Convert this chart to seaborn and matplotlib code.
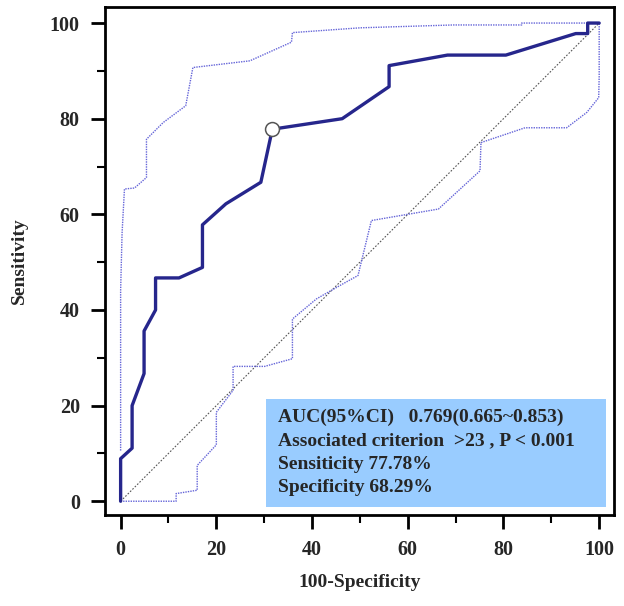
import numpy as np
import pandas as pd
import matplotlib
matplotlib.use("Agg")
import matplotlib.pyplot as plt
import seaborn as sns
from matplotlib.patches import Rectangle
from matplotlib.ticker import MultipleLocator

# ROC curve (100-Specificity, Sensitivity)
roc_x = [0, 0, 2.4, 2.4, 4.9, 4.9, 7.3, 7.3, 12.2, 17.1, 17.1, 22.0, 29.3, 31.7,
         46.3, 56.1, 56.1, 68.3, 80.5, 95.1, 97.6, 97.6, 100]
roc_y = [0, 8.9, 11.1, 20.0, 26.7, 35.6, 40.0, 46.7, 46.7, 48.9, 57.8, 62.2, 66.7, 77.8,
         80.0, 86.7, 91.1, 93.3, 93.3, 97.8, 97.8, 100, 100]

# upper confidence band
up_x = [0, 0, 0.3, 0.8, 2.9, 5.4, 5.4, 8.9, 13.6, 15.1, 27.0, 35.7, 35.9, 50.0,
        69.5, 83.8, 83.8, 100]
up_y = [10.6, 44.0, 56.0, 65.3, 65.5, 67.7, 75.7, 79.2, 82.7, 90.7, 92.1, 96.0, 98.0, 99.0,
        99.6, 99.6, 100, 100]

# lower confidence band
lo_x = [0, 11.6, 11.6, 16.0, 16.0, 20.0, 20.0, 23.5, 23.5, 30.1, 35.9, 35.9, 40.9, 45.8,
        49.6, 52.4, 66.4, 75.1, 75.3, 84.5, 93.2, 97.4, 99.9, 100, 100]
lo_y = [0, 0, 1.6, 2.3, 7.5, 11.8, 18.6, 23.2, 28.2, 28.2, 29.8, 38.1, 42.3, 45.1,
        47.2, 58.7, 61.1, 69.1, 75.0, 78.1, 78.1, 81.3, 84.4, 88.9, 100]

# cut-off point
cut_x = [31.71]
cut_y = [77.78]

info_lines = [
    "AUC(95%CI)   0.769(0.665~0.853)",
    "Associated criterion  >23 , P < 0.001",
    "Sensiticity 77.78%",
    "Specificity 68.29%",
]

sns.set_style("white")
plt.rcParams['font.family'] = ['Liberation Serif', 'DejaVu Serif']

fig = plt.figure(figsize=(6.24, 6.06), dpi=100)
ax = fig.add_axes([0.168, 0.150, 0.816, 0.838])

# chance line
sns.lineplot(x=[0, 100], y=[0, 100], ax=ax, color="#555555", lw=0.8,
             linestyle=(0, (1.5, 1.5)), sort=False, estimator=None)

ci_color = "#6464d8"
sns.lineplot(x=up_x, y=up_y, ax=ax, color=ci_color, lw=1.0,
             linestyle=(0, (1, 0.8)), sort=False, estimator=None)
sns.lineplot(x=lo_x, y=lo_y, ax=ax, color=ci_color, lw=1.0,
             linestyle=(0, (1, 0.8)), sort=False, estimator=None)
sns.lineplot(x=roc_x, y=roc_y, ax=ax, color="#26268c", lw=2.4,
             sort=False, estimator=None)
ax.plot(cut_x, cut_y, "o", ms=10, mfc="white", mec="#555555", mew=1.1, zorder=5)

ax.set_xlim(-3.3, 103.1)
ax.set_ylim(-2.9, 103.3)
ax.xaxis.set_major_locator(MultipleLocator(20))
ax.yaxis.set_major_locator(MultipleLocator(20))
ax.xaxis.set_minor_locator(MultipleLocator(10))
ax.yaxis.set_minor_locator(MultipleLocator(10))
ax.tick_params(which="major", direction="out", length=10, width=2, pad=8,
               labelsize=14.5, bottom=True, left=True, color="black")
ax.tick_params(which="minor", direction="out", length=6, width=1.5,
               bottom=True, left=True, color="black")
for lab in ax.get_xticklabels() + ax.get_yticklabels():
    lab.set_fontweight("bold")
for s in ax.spines.values():
    s.set_linewidth(2)
    s.set_color("black")

ax.set_xlabel("100-Specificity", fontsize=14, fontweight="bold", labelpad=10)
ax.set_ylabel("Sensitivity", fontsize=14, fontweight="bold", labelpad=16)

# info box
ax.add_patch(Rectangle((0.317, 0.0153), 0.668, 0.213, transform=ax.transAxes,
                       facecolor="#99ccff", edgecolor="none", zorder=6))
for i, line in enumerate(info_lines):
    ax.text(0.340, 0.1837 - i * 0.0463, line, transform=ax.transAxes,
            fontsize=14, fontweight="bold", va="baseline", ha="left", zorder=7)

fig.savefig("out.png", dpi=100)
